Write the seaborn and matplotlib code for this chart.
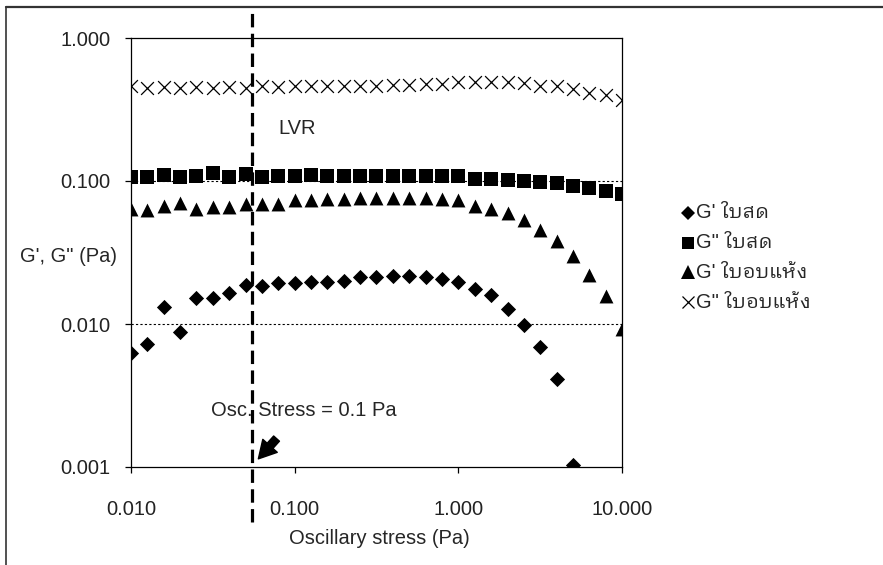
import numpy as np
import pandas as pd
import matplotlib
matplotlib.use("Agg")
import matplotlib.pyplot as plt
import seaborn as sns
from matplotlib import font_manager
from matplotlib.ft2font import FT2Font
from matplotlib.lines import Line2D
from matplotlib.patches import FancyArrowPatch
from matplotlib.ticker import FixedLocator, FixedFormatter, NullLocator

# ---------------- data ----------------
stress = [0.01, 0.0126, 0.0158, 0.02, 0.0251, 0.0316, 0.0398, 0.0501, 0.0631, 0.0794,
          0.1, 0.126, 0.158, 0.2, 0.251, 0.316, 0.398, 0.501, 0.631, 0.794,
          1.0, 1.26, 1.58, 2.0, 2.51, 3.16, 3.98, 5.01, 6.31, 7.94, 10.0]

g1_fresh = [0.0063, 0.0072, 0.0132, 0.0088, 0.0153, 0.0151, 0.0166, 0.0187, 0.0185, 0.0193,
            0.0193, 0.0198, 0.0198, 0.0201, 0.0212, 0.0212, 0.0215, 0.0215, 0.0212, 0.0206,
            0.0198, 0.0177, 0.0159, 0.0128, 0.0098, 0.0069, 0.0041, 0.00103]

g2_fresh = [0.106, 0.107, 0.111, 0.106, 0.108, 0.113, 0.106, 0.112, 0.107, 0.108,
            0.109, 0.111, 0.108, 0.108, 0.108, 0.108, 0.108, 0.108, 0.108, 0.108,
            0.108, 0.104, 0.103, 0.102, 0.100, 0.098, 0.097, 0.093, 0.089, 0.0855, 0.0805]

g1_dried = [0.0636, 0.0625, 0.067, 0.0697, 0.0636, 0.0659, 0.0659, 0.0689, 0.0685, 0.0685,
            0.0735, 0.0735, 0.0747, 0.0747, 0.0763, 0.0755, 0.0763, 0.0763, 0.0755, 0.0743,
            0.0735, 0.067, 0.0636, 0.0598, 0.0531, 0.0457, 0.0378, 0.0298, 0.0220, 0.0157, 0.00917]

g2_dried = [0.46, 0.45, 0.455, 0.45, 0.455, 0.45, 0.455, 0.45, 0.46, 0.455,
            0.46, 0.46, 0.46, 0.465, 0.465, 0.465, 0.47, 0.47, 0.475, 0.475,
            0.49, 0.495, 0.49, 0.49, 0.485, 0.465, 0.46, 0.44, 0.41, 0.40, 0.37]

labels = ["G' ใบสด", 'G" ใบสด', "G' ใบอบแห้ง", 'G" ใบอบแห้ง']
y_ticks = [0.001, 0.01, 0.1, 1.0]
y_ticklabels = ["0.001", "0.010", "0.100", "1.000"]
x_ticks = [0.01, 0.1, 1.0, 10.0]
x_ticklabels = ["0.010", "0.100", "1.000", "10.000"]
lvr_stress = 0.0548

# ---------------- fonts ----------------
def find_thai_font():
    found = []
    for f in font_manager.fontManager.ttflist:
        try:
            cmap = FT2Font(f.fname).get_charmap()
        except Exception:
            continue
        if 0x0E43 in cmap and 0x0E1A in cmap and 0x0E2A in cmap:
            found.append(f.name)
    if not found:
        return None
    for n in found:
        if "Thai" in n and "Looped" in n:
            return n
    for n in found:
        if "Thai" in n:
            return n
    return found[0]

thai = find_thai_font()
sns.set_style("white")
base = "Liberation Sans"
fams = [base] + ([thai] if thai else []) + ["DejaVu Sans"]
plt.rcParams["font.family"] = fams
FS = 14.5

# ---------------- figure ----------------
W, H = 883, 565
fig = plt.figure(figsize=(W / 100, H / 100), dpi=100)
fig.patch.set_facecolor("white")
ax = fig.add_axes([131 / W, 1 - 467 / H, 491 / W, 429 / H])
ax.set_xscale("log")
ax.set_yscale("log")
ax.set_xlim(0.01, 10)
ax.set_ylim(0.001, 1)

series = [
    (stress[:len(g1_fresh)], g1_fresh, "D", 60, 0),
    (stress, g2_fresh, "s", 95, 0),
    (stress, g1_dried, "^", 100, 0),
    (stress, g2_dried, "x", 85, 0.9),
]
for (xs, ys, m, s, lw), lab in zip(series, labels):
    df = pd.DataFrame({"x": xs, "y": ys})
    if m == "x":
        sns.scatterplot(data=df, x="x", y="y", marker=m, s=s, color="black",
                        linewidth=lw, ax=ax, legend=False, zorder=3)
    else:
        sns.scatterplot(data=df, x="x", y="y", marker=m, s=s, color="black",
                        edgecolor="black", linewidth=0, ax=ax, legend=False, zorder=3)

# grid lines
for yv in [0.01, 0.1]:
    ax.axhline(yv, color="black", lw=0.8, ls=(0, (2, 2)), zorder=1)

# LVR dashed line
ax.axvline(lvr_stress, ymin=-0.128, ymax=1.07, clip_on=False, color="black",
           lw=2.3, ls=(0, (4.2, 2.0)), zorder=5)

for sp in ax.spines.values():
    sp.set_color("black")
    sp.set_linewidth(0.9)

ax.xaxis.set_major_locator(FixedLocator(x_ticks))
ax.xaxis.set_major_formatter(FixedFormatter(x_ticklabels))
ax.yaxis.set_major_locator(FixedLocator(y_ticks))
ax.yaxis.set_major_formatter(FixedFormatter(y_ticklabels))
ax.xaxis.set_minor_locator(NullLocator())
ax.yaxis.set_minor_locator(NullLocator())
ax.tick_params(axis="x", direction="out", length=4.5, width=0.9, pad=19,
               labelsize=FS, colors="black", bottom=True)
ax.tick_params(axis="y", direction="out", length=4.5, width=0.9, pad=10.5,
               labelsize=FS, colors="black", left=True)
for t in ax.get_xticklabels() + ax.get_yticklabels():
    t.set_color("#222222")
ax.set_xlabel("")
ax.set_ylabel("")

# texts
fig.text(379 / W, 1 - 538 / H, "Oscillary stress (Pa)", ha="center", va="center", fontsize=FS)
fig.text(20 / W, 1 - 257 / H, "G', G\" (Pa)", ha="left", va="center", fontsize=FS)
fig.text(278 / W, 1 - 128 / H, "LVR", ha="left", va="center", fontsize=FS)
fig.text(211 / W, 1 - 410 / H, "Osc. Stress = 0.1 Pa", ha="left", va="center", fontsize=FS,
         zorder=1)

arrow = FancyArrowPatch((0.0775, 0.00158), (0.0600, 0.00114),
                        arrowstyle="simple,head_width=1.0,head_length=0.9,tail_width=0.4",
                        mutation_scale=14, color="black", shrinkA=0, shrinkB=0,
                        clip_on=False, zorder=6)
ax.add_patch(arrow)

# legend (manual)
leg_rows = [213, 243, 272, 302]
leg_markers = [("D", 7.0, 0), ("s", 9.0, 0), ("^", 9.5, 0), ("x", 9.0, 0.9)]
for (m, ms, lw), yy, lab in zip(leg_markers, leg_rows, labels):
    if m == "x":
        fig.add_artist(Line2D([688 / W], [1 - yy / H], marker=m, markersize=ms, color="black",
                              markeredgewidth=lw, transform=fig.transFigure, linestyle="none"))
    else:
        fig.add_artist(Line2D([688 / W], [1 - yy / H], marker=m, markersize=ms, color="black",
                              markeredgewidth=0, transform=fig.transFigure, linestyle="none"))
    fig.text(696 / W, 1 - yy / H, lab, ha="left", va="center", fontsize=FS)

# outer frame lines (left and top)
fig.add_artist(Line2D([6 / W, 6 / W], [0, 1 - 7 / H], color="#333333", lw=1.2,
                      transform=fig.transFigure))
fig.add_artist(Line2D([6 / W, 1], [1 - 7 / H, 1 - 7 / H], color="#333333", lw=1.6,
                      transform=fig.transFigure))

fig.savefig("out.png", dpi=100, facecolor="white")
